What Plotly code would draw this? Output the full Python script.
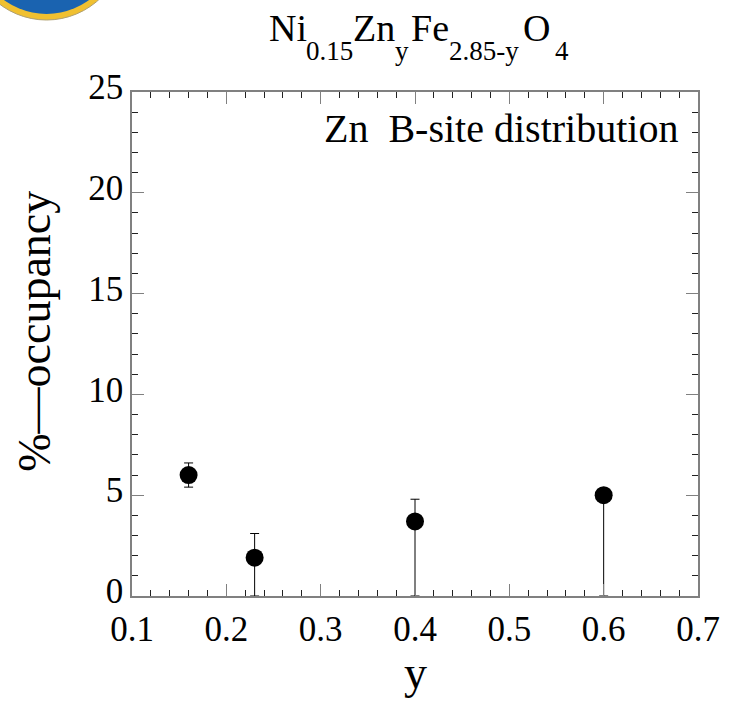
import plotly.graph_objects as go

# ---- data ----
y_comp = [0.16, 0.23, 0.40, 0.60]          # Zn content y
occupancy = [6.0, 1.9, 3.7, 5.0]           # % occupancy
err_plus = [0.6, 1.2, 1.1, 0.0]
err_minus = [0.6, 1.9, 3.7, 5.0]

x_ticks = [0.1, 0.2, 0.3, 0.4, 0.5, 0.6, 0.7]
x_ticklabels = ["0.1", "0.2", "0.3", "0.4", "0.5", "0.6", "0.7"]
y_ticks = [0, 5, 10, 15, 20, 25]
y_ticklabels = ["0", "5", "10", "15", "20", "25"]

W, H = 732, 705
ML, MR, MT, MB = 132, 24, 92, 109
PW, PH = W - ML - MR, H - MT - MB
FONT = "Liberation Serif, Times New Roman, serif"


def px(x):
    return (x - ML) / PW


def py(y):
    return (H - MB - y) / PH


fig = go.Figure()
fig.add_trace(go.Scatter(
    x=y_comp, y=occupancy, mode="markers",
    marker=dict(size=18, color="black"),
    error_y=dict(type="data", symmetric=False, array=err_plus, arrayminus=err_minus,
                 color="black", thickness=1, width=4.5),
    showlegend=False,
))

axis_common = dict(
    showgrid=False, zeroline=False, showline=True, linecolor="#808080", linewidth=1.5,
    mirror="allticks", ticks="inside", ticklen=12, tickwidth=1.2, tickcolor="#808080",
    tickfont=dict(family=FONT, size=35, color="black"),
)

fig.update_xaxes(range=[0.1, 0.7], tickvals=x_ticks, ticktext=x_ticklabels,
                 ticklabelstandoff=1,
                 minor=dict(dtick=0.02, ticks="inside", ticklen=6, tickcolor="#222", tickwidth=1),
                 **axis_common)
fig.update_yaxes(range=[0, 25], tickvals=y_ticks, ticktext=y_ticklabels,
                 ticklabelshift=-5,
                 minor=dict(dtick=1, ticks="inside", ticklen=6, tickcolor="#222", tickwidth=1),
                 **axis_common)

ann = []
# title pieces (main text + lowered subscripts)
title_parts = [
    ("Ni", 269, 38, 28),
    ("0.15", 307, 27, 51),
    ("Zn", 355, 38, 28),
    ("y", 398, 27, 51),
    ("Fe", 414, 38, 28),
    ("2.85-y", 453, 27, 51),
    ("O", 528, 38, 28),
    ("4", 560, 27, 51),
]
for txt, xp, fs, yp in title_parts:
    ann.append(dict(text=txt, xref="paper", yref="paper", x=px(xp), y=py(yp),
                    xanchor="left", yanchor="middle", showarrow=False,
                    font=dict(family=FONT, size=fs, color="black")))

ann.append(dict(text="Zn\u00a0 B-site distribution", xref="paper", yref="paper",
                x=px(690), y=py(129), xanchor="right", yanchor="middle", showarrow=False,
                font=dict(family=FONT, size=40, color="black")))
ann.append(dict(text="%\u2014occupancy", xref="paper", yref="paper",
                x=px(32), y=py(331), xanchor="center", yanchor="middle", showarrow=False,
                textangle=-90, font=dict(family=FONT, size=46, color="black")))
ann.append(dict(text="y", xref="paper", yref="paper",
                x=px(420), y=py(672), xanchor="center", yanchor="middle", showarrow=False,
                font=dict(family=FONT, size=46, color="black")))

shapes = [
    dict(type="circle", xref="paper", yref="paper",
         x0=px(45 - 80), x1=px(45 + 80), y0=py(-60 + 80), y1=py(-60 - 80),
         fillcolor="#f0c030", line=dict(color="#b0a070", width=1), layer="above"),
    dict(type="circle", xref="paper", yref="paper",
         x0=px(45 - 74), x1=px(45 + 74), y0=py(-60 + 74), y1=py(-60 - 74),
         fillcolor="#1a63b0", line=dict(width=0), layer="above"),
]

fig.update_layout(
    width=W, height=H, margin=dict(l=ML, r=MR, t=MT, b=MB),
    plot_bgcolor="white", paper_bgcolor="white",
    annotations=ann, shapes=shapes,
)

fig.write_html("out.html")
